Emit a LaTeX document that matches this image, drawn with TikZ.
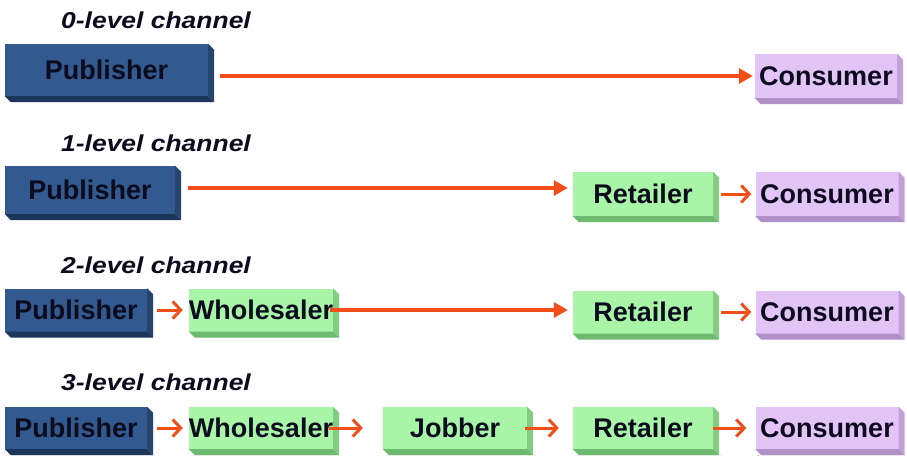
\documentclass[tikz,border=0pt]{standalone}
\usepackage{fontspec}
\setmainfont{Liberation Sans}
\newfontfamily\titlefont[FakeStretch=1.15]{Liberation Sans}
\usetikzlibrary{arrows.meta,backgrounds}

\definecolor{ink}{RGB}{12,12,30}
\definecolor{pubface}{RGB}{50,90,144}
\definecolor{pubside}{RGB}{38,68,110}
\definecolor{pubbottom}{RGB}{28,54,90}
\definecolor{grnface}{RGB}{168,245,168}
\definecolor{grnside}{RGB}{130,205,130}
\definecolor{grnbottom}{RGB}{112,185,112}
\definecolor{lavface}{RGB}{226,196,246}
\definecolor{lavside}{RGB}{196,160,218}
\definecolor{lavbottom}{RGB}{178,144,200}
\definecolor{arrowred}{RGB}{242,78,26}
\definecolor{shade}{RGB}{238,236,228}

% side and bottom faces of a raised box, with a faint drop shadow
\newcommand\boxbevel[3]{%
  \fill[#2] (#1.north east) -- ++(6,6) -- ([shift={(6,6)}]#1.south east) -- (#1.south east) -- cycle;
  \fill[#3] (#1.south west) -- (#1.south east) -- ++(6,6) -- ([shift={(6,6)}]#1.south west) -- cycle;
  \begin{scope}[on background layer]
    \fill[shade] ([shift={(3,3)}]#1.north west) rectangle ([shift={(10,10)}]#1.south east);
  \end{scope}}

\begin{document}
\begin{tikzpicture}[x=1pt,y=-1pt,
  box/.style={rectangle, inner sep=0pt, text=ink,
    font=\bfseries\fontsize{27}{30}\selectfont},
  pub/.style={box, fill=pubface},
  grn/.style={box, fill=grnface},
  lav/.style={box, fill=lavface},
  title/.style={anchor=west, inner sep=0pt, text=ink,
    font=\titlefont\bfseries\itshape\fontsize{23}{26}\selectfont},
  longarr/.style={draw=arrowred, line width=3.2pt,
    -{Triangle[length=14pt,width=15pt]}},
  shortarr/.style={draw=arrowred, line width=3pt,
    -{Straight Barb[length=8pt,width=17pt]}}]
\useasboundingbox[fill=white] (0,0) rectangle (907,455);

% channel titles
\node[title] (t0) at (61,20)  {0-level channel};
\node[title] (t1) at (61,143) {1-level channel};
\node[title] (t2) at (61,265) {2-level channel};
\node[title] (t3) at (61,382) {3-level channel};

% 0-level
\node[pub, minimum width=203pt, minimum height=52pt] (p0) at (106.5,70) {Publisher};
\node[lav, minimum width=142pt, minimum height=44pt] (c0) at (826,76) {Consumer};

% 1-level
\node[pub, minimum width=170pt, minimum height=48pt] (p1) at (90,190) {Publisher};
\node[grn, minimum width=140pt, minimum height=44pt] (r1) at (643,194) {Retailer};
\node[lav, minimum width=143pt, minimum height=44pt] (c1) at (827,194) {Consumer};

% 2-level
\node[pub, minimum width=142pt, minimum height=43pt] (p2) at (76,310) {Publisher};
\node[grn, minimum width=143pt, minimum height=43pt] (w2) at (261,310) {Wholesaler};
\node[grn, minimum width=140pt, minimum height=43pt] (r2) at (643,312) {Retailer};
\node[lav, minimum width=143pt, minimum height=43pt] (c2) at (827,312) {Consumer};

% 3-level
\node[pub, minimum width=142pt, minimum height=42pt] (p3) at (76,428) {Publisher};
\node[grn, minimum width=143pt, minimum height=42pt] (w3) at (261,428) {Wholesaler};
\node[grn, minimum width=144pt, minimum height=42pt] (j3) at (455,428) {Jobber};
\node[grn, minimum width=140pt, minimum height=42pt] (r3) at (643,428) {Retailer};
\node[lav, minimum width=143pt, minimum height=42pt] (c3) at (827,428) {Consumer};

\foreach \n in {p0,p1,p2,p3} {\boxbevel{\n}{pubside}{pubbottom}}
\foreach \n in {r1,w2,r2,w3,j3,r3} {\boxbevel{\n}{grnside}{grnbottom}}
\foreach \n in {c0,c1,c2,c3} {\boxbevel{\n}{lavside}{lavbottom}}

% connectors
\draw[longarr, shorten <=12pt, shorten >=2pt] (p0.east |- c0.west) -- (c0.west);

\draw[longarr, shorten <=13pt, shorten >=5pt] ([yshift=2pt]p1.east) -- ([yshift=2pt]p1.east -| r1.west);
\draw[shortarr, shorten <=8pt, shorten >=4pt] (r1.east) -- (c1.west);

\draw[shortarr, shorten <=10pt, shorten >=6pt] (p2.east) -- (w2.west);
\draw[longarr, shorten <=-3pt, shorten >=5pt] (w2.east) -- (w2.east -| r2.west);
\draw[shortarr, shorten <=8pt, shorten >=4pt] (r2.east) -- (c2.west);

\draw[shortarr, shorten <=10pt, shorten >=6pt] (p3.east) -- (w3.west);
\draw[shortarr, shorten <=-4pt, shorten >=20pt] (w3.east) -- (j3.west);
\draw[shortarr, shorten <=-2pt, shorten >=14pt] (j3.east) -- (r3.west);
\draw[shortarr, shorten <=0pt, shorten >=9pt] (r3.east) -- (c3.west);
\end{tikzpicture}
\end{document}
